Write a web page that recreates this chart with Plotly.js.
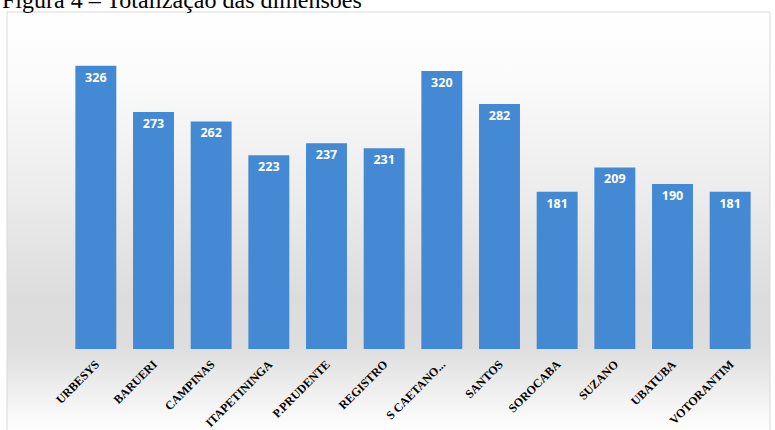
<!DOCTYPE html>
<html>
<head>
<meta charset="utf-8">
<script src="https://cdn.plot.ly/plotly-3.0.1.min.js"></script>
<style>html,body{margin:0;padding:0;background:#fff;}#chart{width:775px;height:430px;}</style>
</head>
<body>
<div id="chart"></div>
<script>
const categories = ["URBESYS","BARUERI","CAMPINAS","ITAPETININGA","P.PRUDENTE","REGISTRO","S CAETANO...","SANTOS","SOROCABA","SUZANO","UBATUBA","VOTORANTIM"];
const totals = [326, 273, 262, 223, 237, 231, 320, 282, 181, 209, 190, 181];
const chartTitle = "Figura 4 – Totalização das dimensões";

const W = 775, H = 430;
const mL = 67, mR = 16, mT = 45, mB = 81;
const pw = W - mL - mR, ph = H - mT - mB;
const px = x => (x - mL) / pw;
const py = y => (H - mB - y) / ph;

const bgSvg = '<svg xmlns="http://www.w3.org/2000/svg" width="763" height="420" preserveAspectRatio="none">' +
  '<defs><linearGradient id="g" x1="0" y1="0" x2="0" y2="1">' +
  '<stop offset="0" stop-color="#ffffff"/>' +
  '<stop offset="0.15" stop-color="#fbfbfb"/>' +
  '<stop offset="0.45" stop-color="#ebebeb"/>' +
  '<stop offset="0.68" stop-color="#dcdcdc"/>' +
  '<stop offset="0.8" stop-color="#dedede"/>' +
  '<stop offset="1" stop-color="#ffffff"/>' +
  '</linearGradient></defs><rect width="763" height="420" fill="url(#g)"/></svg>';
const bgUri = 'data:image/svg+xml;base64,' + btoa(bgSvg);

const trace = {
  type: 'bar',
  x: categories,
  y: totals,
  text: totals.map(String),
  textposition: 'inside',
  insidetextanchor: 'end',
  textangle: 0,
  constraintext: 'none',
  textfont: {family: '"Open Sans", Lato, sans-serif', size: 12.5, color: '#ffffff', weight: 'bold'},
  marker: {color: '#4489d4', line: {width: 0}},
  hoverinfo: 'none'
};

const layout = {
  width: W, height: H,
  margin: {l: mL, r: mR, t: mT, b: mB, pad: 0},
  paper_bgcolor: 'rgba(0,0,0,0)',
  plot_bgcolor: 'rgba(0,0,0,0)',
  bargap: 0.29,
  showlegend: false,
  xaxis: {
    tickangle: -45,
    tickfont: {family: '"Liberation Serif", "Times New Roman", serif', size: 12, color: '#000000', weight: 'bold'},
    showgrid: false, zeroline: false, showline: false, ticks: '',
    ticklabelstandoff: 5,
    automargin: false
  },
  yaxis: {
    range: [0, 350],
    visible: false,
    showgrid: false, zeroline: false
  },
  images: [{
    source: bgUri,
    xref: 'paper', yref: 'paper',
    x: px(7), y: py(12),
    sizex: px(770) - px(7), sizey: py(12) - py(432),
    xanchor: 'left', yanchor: 'top',
    sizing: 'stretch', layer: 'below'
  }],
  shapes: [{
    type: 'rect', xref: 'paper', yref: 'paper',
    x0: px(7), x1: px(770), y0: py(12), y1: py(440),
    line: {color: '#d9d9d9', width: 1}, fillcolor: 'rgba(0,0,0,0)', layer: 'below'
  }],
  annotations: [{
    text: chartTitle,
    xref: 'paper', yref: 'paper',
    x: px(0), y: py(15),
    xanchor: 'left', yanchor: 'bottom',
    showarrow: false,
    font: {family: '"Liberation Serif", "Times New Roman", serif', size: 24, color: '#000000'}
  }]
};

Plotly.newPlot('chart', [trace], layout, {displayModeBar: false, staticPlot: true});
</script>
</body>
</html>
